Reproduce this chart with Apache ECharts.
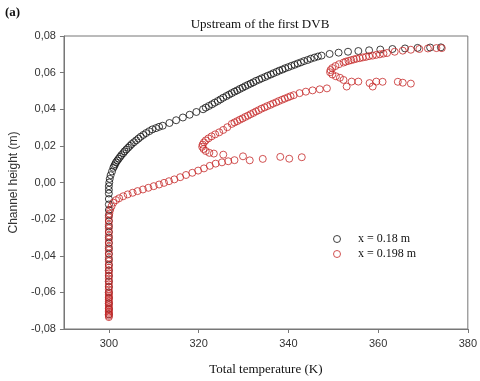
<!DOCTYPE html>
<html lang="en">
<head>
  <meta charset="UTF-8">
  <title>Upstream of the first DVB</title>
  <script src="https://cdn.jsdelivr.net/npm/echarts@6/dist/echarts.min.js"></script>
  <style>
    html, body { margin: 0; padding: 0; background: #fff; }
    #chart { width: 480px; height: 381px; }
  </style>
</head>
<body>
<div id="chart"></div>
<script>
  var seriesNames = ['x = 0.18 m', 'x = 0.198 m'];
  var xTicks = [300, 320, 340, 360, 380];

  // x = 0.18 m  (temperature K, height m)
  var dataA = [
    [300,-0.072],[300,-0.069],[300,-0.066],[300,-0.063],[300,-0.060],[300,-0.057],[300,-0.054],
    [300,-0.051],[300,-0.048],[300,-0.045],[300,-0.042],[300,-0.039],[300,-0.036],[300,-0.033],
    [300,-0.030],[300,-0.027],[300,-0.024],[300,-0.021],[300,-0.018],[300,-0.015],[300,-0.012],
    [300,-0.009],[300,-0.006],[300,-0.004],[300,-0.002],[300.1,0],[300.2,0.002],[300.4,0.004],
    [300.7,0.006],[301,0.008],[301.2,0.009],[301.4,0.010],[301.6,0.011],[301.9,0.012],[302.2,0.013],
    [302.5,0.014],[302.8,0.015],[303.2,0.016],[303.5,0.017],[303.9,0.018],[304.3,0.019],
    [304.7,0.020],[305.1,0.021],[305.6,0.022],[306.1,0.023],[306.6,0.024],[307.1,0.025],
    [307.7,0.026],[308.3,0.027],[309,0.028],[309.7,0.029],[310.5,0.0297],[311.2,0.0304],[312,0.031],
    [313.5,0.0325],[315,0.034],[316.5,0.0355],[318,0.037],[319.5,0.0385],[321,0.040],[321.6,0.0409],
    [322.3,0.0418],[323,0.0427],[323.6,0.0436],[324.3,0.0445],[324.9,0.0454],[325.5,0.0463],
    [326.2,0.0472],[326.8,0.048],[327.4,0.0488],[328,0.0496],[328.6,0.0503],[329.2,0.0511],
    [329.8,0.0518],[330.4,0.0526],[331,0.0533],[331.6,0.054],[332.2,0.0547],[332.8,0.0555],
    [333.5,0.0562],[334.1,0.0569],[334.8,0.0576],[335.4,0.0583],[336.1,0.059],[336.7,0.0597],
    [337.4,0.0604],[338,0.0611],[338.7,0.0617],[339.3,0.0624],[340,0.063],[340.7,0.0637],
    [341.4,0.0643],[342.1,0.065],[342.8,0.0656],[343.5,0.0663],[344.3,0.0669],[345,0.0676],
    [345.8,0.0682],[346.6,0.0688],[347.4,0.0693],[349.2,0.0702],[351.2,0.0709],[353.3,0.0714],
    [355.6,0.0718],[358,0.0722],[360.5,0.0726],[363.2,0.0729],[366,0.0732],[368.8,0.0735],
    [371.6,0.0737],[374,0.0738]
  ];

  // x = 0.198 m
  var dataB = [
    [300,-0.0735],[300,-0.0728],[300,-0.072],[300,-0.0712],[300,-0.0705],[300,-0.0697],[300,-0.069],
    [300,-0.068],[300,-0.067],[300,-0.066],[300,-0.065],[300,-0.064],[300,-0.063],[300,-0.062],
    [300,-0.061],[300,-0.060],[300,-0.0585],[300,-0.057],[300,-0.0555],[300,-0.054],[300,-0.0525],
    [300,-0.051],[300,-0.0495],[300,-0.048],[300,-0.0465],[300,-0.045],[300,-0.043],[300,-0.041],
    [300,-0.039],[300,-0.037],[300,-0.035],[300,-0.033],[300,-0.031],[300,-0.029],[300,-0.027],
    [300,-0.025],[300,-0.023],[300,-0.021],[300,-0.019],[300.1,-0.017],[300.3,-0.015],[300.6,-0.013],
    [301,-0.011],[301.6,-0.0096],[302.3,-0.0086],[303.2,-0.0075],[304.2,-0.0065],[305.3,-0.0056],
    [306.4,-0.0047],[307.6,-0.0038],[308.8,-0.0029],[310,-0.002],[311.2,-0.0011],[312.3,-0.0002],
    [313.4,0.0007],[314.6,0.0017],[315.9,0.0029],[317.2,0.0041],[318.6,0.0053],[319.9,0.0065],
    [321.2,0.0077],[322.5,0.0091],[323.8,0.0103],[325.2,0.011],[326.6,0.0116],[328,0.0122],
    // scattered points near 0.013
    [329.9,0.0143],[331.4,0.0121],[334.3,0.0129],[338.2,0.014],[340.2,0.013],[343,0.0138],
    [325.5,0.0152],[323.4,0.0158],
    // curl near 321 and upper branch
    [322.4,0.0162],[321.6,0.0172],[321.1,0.0183],[320.8,0.0195],[320.9,0.0207],[321.2,0.0219],
    [321.6,0.023],[322.2,0.0241],[322.9,0.0252],[323.7,0.0263],[324.6,0.0274],[325.5,0.0287],
    [326.4,0.0302],[327.4,0.032],[328,0.0328],[328.6,0.0335],[329.2,0.0343],[329.8,0.035],
    [330.4,0.0358],[331,0.0365],[331.6,0.0373],[332.2,0.038],[332.8,0.0388],[333.4,0.0395],
    [334,0.0403],[334.7,0.041],[335.3,0.0417],[336,0.0424],[336.6,0.0431],[337.3,0.0438],
    [337.9,0.0445],[338.6,0.0452],[339.2,0.0458],[339.9,0.0465],[340.5,0.0471],[341.2,0.0477],
    [342.5,0.0488],[343.9,0.0496],[345.4,0.0503],[347,0.0509],[348.6,0.0514],
    // scattered points near 0.055
    [352.3,0.056],[353,0.0524],[354.1,0.0551],[355.6,0.0551],[358.1,0.0543],[358.8,0.0524],
    [359.6,0.0551],[361,0.055],[364.4,0.055],[365.5,0.0545],[367.3,0.054],
    // curl near 350 and top branch
    [351.5,0.0572],[350.6,0.058],[349.8,0.059],[349.3,0.0602],[349.4,0.0614],[349.8,0.0625],
    [350.5,0.0636],[351.3,0.0646],[352.3,0.0655],[352.8,0.066],[353.4,0.0664],[354,0.0668],
    [354.6,0.0672],[355.2,0.0676],[355.9,0.0679],[356.6,0.0683],[357.3,0.0686],[358,0.069],
    [358.8,0.0693],[359.6,0.0697],[360.4,0.07],[361.2,0.0704],[362,0.0707],[363.7,0.0714],
    [365.5,0.072],[367.3,0.0725],[369.2,0.0729],[371.1,0.0732],[373,0.0734],[374.2,0.0734]
  ];

  var colorA = '#111111';
  var colorB = '#c62828';
  var serif = 'Liberation Serif';
  var sans = 'Liberation Sans';

  var chart = echarts.init(document.getElementById('chart'));
  chart.setOption({
    animation: false,
    title: [
      { text: 'Upstream of the first DVB', left: 255, top: 13, textAlign: 'center',
        textStyle: { fontFamily: serif, fontSize: 13, fontWeight: 'normal', color: '#111' } },
      { text: '(a)', left: 0, top: 1,
        textStyle: { fontFamily: serif, fontSize: 13, fontWeight: 'bold', color: '#111' } }
    ],
    grid: { left: 60, right: 11, top: 36, bottom: 51, show: true, borderColor: '#777', borderWidth: 1 },
    legend: {
      orient: 'vertical', left: 333, top: 233, itemWidth: 32, itemHeight: 7, itemGap: 3, padding: 0,
      textStyle: { fontFamily: serif, fontSize: 12, color: '#111' },
      data: [
        { name: seriesNames[0], icon: 'circle', itemStyle: { color: 'rgba(0,0,0,0)', borderColor: colorA, borderWidth: 1 } },
        { name: seriesNames[1], icon: 'circle', itemStyle: { color: 'rgba(0,0,0,0)', borderColor: colorB, borderWidth: 1 } }
      ]
    },
    xAxis: {
      type: 'value', min: 290, max: 380,
      name: 'Total temperature (K)', nameLocation: 'middle', nameGap: 34,
      nameTextStyle: { fontFamily: serif, fontSize: 13, color: '#111' },
      axisLine: { onZero: false, lineStyle: { color: '#777' } },
      axisTick: { show: true, inside: false, length: 4, customValues: xTicks, lineStyle: { color: '#777' } },
      axisLabel: { customValues: xTicks, margin: 9, fontFamily: sans, fontSize: 11, color: '#333' },
      splitLine: { show: false }
    },
    yAxis: {
      type: 'value', min: -0.08, max: 0.08, interval: 0.02,
      name: 'Channel height (m)', nameLocation: 'middle', nameGap: 42,
      nameTextStyle: { fontFamily: sans, fontSize: 12, color: '#333' },
      axisLine: { show: true, onZero: false, lineStyle: { color: '#777' } },
      axisTick: { show: true, inside: false, length: 4, lineStyle: { color: '#777' } },
      axisLabel: {
        margin: 8, fontFamily: sans, fontSize: 11, color: '#333',
        formatter: function (v) { return v.toFixed(2).replace('.', ','); }
      },
      splitLine: { show: false }
    },
    series: [
      { name: seriesNames[0], type: 'scatter', data: dataA, symbol: 'circle', symbolSize: 7,
        itemStyle: { color: 'rgba(0,0,0,0)', borderColor: colorA, borderWidth: 1 },
        emphasis: { disabled: true } },
      { name: seriesNames[1], type: 'scatter', data: dataB, symbol: 'circle', symbolSize: 7,
        itemStyle: { color: 'rgba(0,0,0,0)', borderColor: colorB, borderWidth: 1 },
        emphasis: { disabled: true } }
    ]
  });
</script>
</body>
</html>
